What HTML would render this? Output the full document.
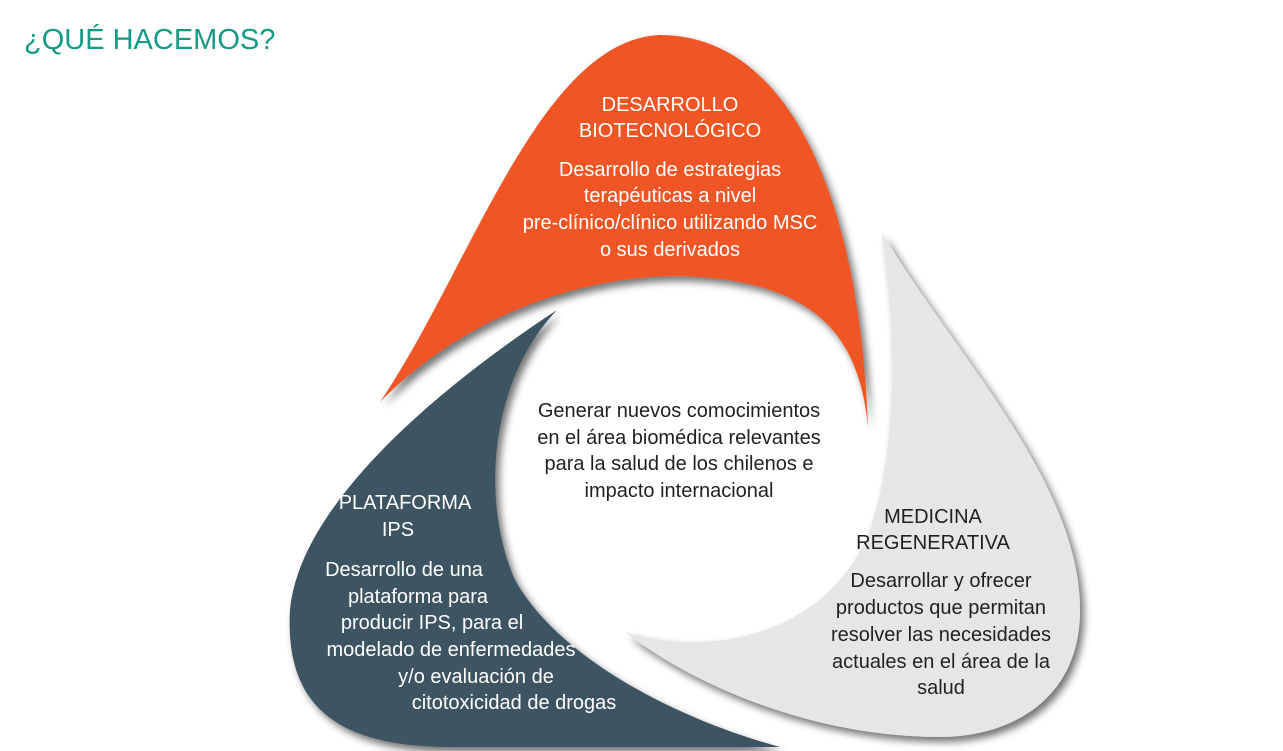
<!DOCTYPE html>
<html><head><meta charset="utf-8"><style>
html,body{margin:0;padding:0;background:#fff;}
svg{display:block;}
text{font-family:"Liberation Sans",sans-serif;}
</style></head><body>
<svg width="1283" height="751" viewBox="0 0 1283 751" xmlns="http://www.w3.org/2000/svg">
<defs>
<filter id="sh" x="-20%" y="-20%" width="140%" height="140%">
<feGaussianBlur in="SourceAlpha" stdDeviation="4"/>
<feOffset dx="4" dy="5" result="b"/>
<feComponentTransfer><feFuncA type="linear" slope="0.55"/></feComponentTransfer>
<feMerge><feMergeNode/><feMergeNode in="SourceGraphic"/></feMerge>
</filter>
</defs>
<text x="24" y="49" font-size="29" fill="#159a86">¿QUÉ HACEMOS?</text>

<path filter="url(#sh)" fill="#e6e6e6" d="M882,232 C950,350 1080,480 1080,610 C1080,700 1010,737 940,737 C820,737 700,690 625,632 C720,660 830,630 870,530 C900,440 895,320 882,232 Z"/>
<path filter="url(#sh)" fill="#3d5562" d="M557,310 C450,380 300,500 290,610 C285,700 330,747 450,747 L780,747 C680,720 560,660 515,580 C480,500 490,380 557,310 Z"/>
<path filter="url(#sh)" fill="#f05428" d="M380,402 C470,270 540,40 660,35 C790,35 860,200 868,428 C860,340 820,280 680,276 C560,276 450,330 380,402 Z"/>

<g font-size="20" fill="#fff" text-anchor="middle" dominant-baseline="central">
<text x="670" y="105">DESARROLLO</text>
<text x="670" y="131">BIOTECNOLÓGICO</text>
<text x="670" y="170">Desarrollo de estrategias</text>
<text x="670" y="196">terapéuticas a nivel</text>
<text x="670" y="223">pre-clínico/clínico utilizando MSC</text>
<text x="670" y="250">o sus derivados</text>

<text x="405" y="503">PLATAFORMA</text>
<text x="398" y="530">IPS</text>
<text x="404" y="570">Desarrollo de una</text>
<text x="418" y="597">plataforma para</text>
<text x="432" y="623">producir IPS, para el</text>
<text x="451" y="650">modelado de enfermedades</text>
<text x="476" y="677">y/o evaluación de</text>
<text x="514" y="703">citotoxicidad de drogas</text>
</g>
<g font-size="20" fill="#231f20" text-anchor="middle" dominant-baseline="central">
<text x="679" y="411">Generar nuevos comocimientos</text>
<text x="679" y="438">en el área biomédica relevantes</text>
<text x="679" y="464">para la salud de los chilenos e</text>
<text x="679" y="491">impacto internacional</text>

<text x="933" y="517">MEDICINA</text>
<text x="933" y="543">REGENERATIVA</text>
<text x="941" y="581">Desarrollar y ofrecer</text>
<text x="941" y="608">productos que permitan</text>
<text x="941" y="635">resolver las necesidades</text>
<text x="941" y="662">actuales en el área de la</text>
<text x="941" y="688">salud</text>
</g>
</svg>
</body></html>
